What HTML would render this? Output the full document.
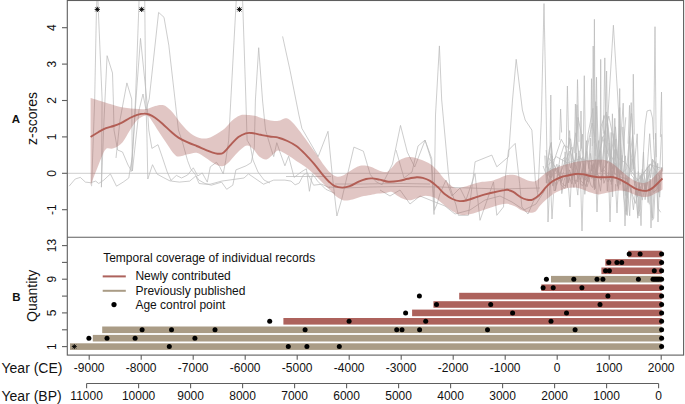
<!DOCTYPE html>
<html><head><meta charset="utf-8"><title>chart</title>
<style>
html,body{margin:0;padding:0;background:#fff;}
body{width:685px;height:404px;overflow:hidden;}
svg{display:block;}
text{font-family:"Liberation Sans",sans-serif;fill:#111;}
</style></head><body>
<svg width="685" height="404" viewBox="0 0 685 404">
<rect width="685" height="404" fill="#fff"/>
<g fill="none" stroke="#b9b9b9" stroke-width="0.72" stroke-linejoin="round">
<path d="M67,173.3 H683.5"/>
<path d="M91.6,186.2 L94.7,99.0 L96.4,12.0 L97.4,-14.0 L98.4,12.0 L102.1,99.0 L101.4,187.2 L104.0,120.0 L107.1,55.7 L112.5,73.0 L113.3,99.0 L114.0,130.0 L117.6,150.0 L122.5,152.0 L128.0,165.0 L131.5,171.0"/><path d="M69.1,186.2 L75.2,179.0 L80.3,177.4 L85.4,182.1 L90.5,182.7 L95.7,181.1 L98.7,183.5 L103.8,180.1 L110.4,173.9 L116.5,186.2 L123.2,182.1 L128.8,178.0 L130.0,169.9 L132.4,156.6 L134.1,130.0 L135.5,99.0 L139.3,-6.0 L144.7,-6.0 L145.7,99.0 L146.8,130.0 L147.8,179.0 L152.5,164.7 L157.0,174.0 L163.1,177.4 L170.3,181.1 L176.4,175.4 L181.5,178.0 L187.6,175.0 L193.3,167.8 L197.8,176.0 L202.2,172.9 L207.3,182.1 L210.3,166.8 L216.5,162.3 L219.5,166.4 L223.2,173.9 L225.7,160.7 L228.7,140.2 L230.8,100.0 L236.6,-6.0 L242.4,-6.0 L245.9,100.0 L247.1,140.2 L250.2,145.3 L253.0,160.0 L258.0,172.0 L264.0,180.0 L270.0,183.0"/><path d="M131.0,172.0 L136.0,99.0 L140.5,38.4 L146.7,99.0 L148.8,130.0 L151.9,148.4 L158.0,144.7 L162.1,156.6 L167.2,171.9 L171.3,181.1 L179.4,182.1 L189.7,181.1 L195.8,176.0 L199.1,183.5 L205.2,184.2 L210.3,184.2 L221.6,181.1 L244.0,178.0 L248.5,173.9 L263.5,184.2 L273.7,180.1 L284.9,180.1 L291.0,181.1 L295.1,184.8 L299.2,183.1 L303.3,175.0 L307.4,172.9 L313.6,185.2 L321.7,184.2 L330.0,188.0"/><path d="M116.0,158.0 L120.0,120.0 L126.9,82.9 L131.7,99.0 L132.4,171.0 L139.0,110.0 L143.0,94.0 L146.0,110.0 L149.2,99.0 L158.6,12.4 L164.0,17.3 L168.8,45.2 L175.1,100.4 L178.4,130.0 L182.5,142.3 L187.6,160.7 L190.7,168.8 L194.8,173.9 L198.9,180.1 L205.0,183.5 L211.4,185.2 L221.6,182.1 L226.7,189.3 L232.8,185.2 L235.9,169.9 L246.1,165.8 L251.2,162.7 L254.3,147.4 L255.4,100.0 L258.7,47.7 L262.5,100.0 L265.5,130.0 L271.6,150.4 L273.7,156.6 L276.8,142.7 L280.8,154.5 L284.9,165.8 L288.6,156.2 L294.1,177.4 L301.3,171.9 L306.4,168.8 L309.4,191.3 L312.5,173.9 L317.6,181.1 L325.8,189.3 L335.0,193.4"/>
<path d="M282.6,36.4 L290.0,70.2 L298.9,115.0 L301.9,128.4 L318.2,156.6 L328.0,131.3 L332.2,174.4 L336.9,216.0 L342.0,198.2 L353.9,147.1 L363.4,151.2 L370.2,174.4 L376.1,181.8 L382.1,184.8 L392.5,164.0 L400.5,125.4 L407.3,152.1 L414.7,167.0 L425.1,140.2 L431.1,159.6 L434.0,214.5 L435.5,115.0 L439.4,45.9 L441.7,100.0 L448.4,173.5 L450.0,187.0 L456.0,205.0 L458.4,215.3 L468.4,215.3 L475.1,161.8 L491.8,155.1 L496.8,166.8 L508.5,156.8 L512.5,100.0 L516.2,59.3 L522.4,110.0 L525.2,120.0 L531.9,130.1 L535.3,180.2 L538.0,196.0"/><path d="M329.0,187.0 L345.0,188.0 L370.0,187.0 L400.0,186.5 L440.0,187.0 L470.0,188.0 L500.0,189.0 L540.0,188.0"/><path d="M335.0,184.0 L360.0,184.0 L400.0,183.5 L430.0,184.0"/><path d="M286.0,176.5 L331.0,176.5"/><path d="M396.0,150.0 L404.0,178.0 L412.0,172.0 L418.0,146.0 L425.0,140.1 L431.7,158.5 L434.4,210.3 L437.0,204.0 L440.0,193.7 L446.0,180.0 L452.0,196.0 L460.0,188.0 L466.0,200.0 L475.0,173.5 L480.0,220.3 L493.5,181.9 L496.8,215.3 L503.5,206.9 L505.0,180.0 L508.5,150.1 L515.2,143.4 L519.6,183.5 L521.9,206.9 L528.0,214.0 L534.0,200.0 L540.0,196.0"/><path d="M380.0,190.0 L390.0,196.0 L400.0,190.0 L410.0,204.0 L420.0,196.0 L430.0,200.0 L445.0,206.0 L455.0,214.0 L470.0,210.0 L485.0,200.0 L500.0,196.0 L512.0,202.0 L524.0,210.0 L536.0,204.0 L545.0,190.0"/>
<path d="M538.0,192.0 L541.3,120.0 L544.0,3.6 L546.3,120.0 L548.0,222.0 L550.5,170.0"/><path d="M546.0,155.9 L547.6,176.2 L549.3,164.6 L551.0,153.7 L553.0,160.9 L554.1,164.5 L556.1,172.0 L558.3,173.9 L560.4,178.4 L561.6,181.0 L562.6,174.6 L563.8,171.5 L565.1,151.8 L566.7,167.7 L568.7,182.7 L570.3,172.7 L572.1,178.4 L574.3,166.7 L576.5,152.9 L577.8,182.1 L579.1,171.3 L581.0,162.0 L582.5,156.8 L584.7,178.6 L586.7,151.2 L588.8,168.6 L590.3,137.9 L591.4,171.2 L593.2,164.5 L594.3,178.4 L595.7,101.7 L596.8,174.9 L598.1,159.6 L600.1,161.7 L601.3,180.1 L602.5,175.1 L604.4,133.2 L605.5,129.9 L607.0,162.6 L609.2,143.0 L611.2,177.7 L612.4,113.8 L614.5,174.0 L616.6,174.7 L617.9,170.6 L619.3,110.1 L620.6,160.1 L622.3,174.3 L623.6,191.6 L625.2,188.6 L627.3,198.2 L629.4,176.8 L630.6,152.0 L632.6,135.2 L633.9,169.0 L636.0,147.5 L637.2,133.8 L639.0,189.6 L640.5,176.7 L642.6,177.5 L643.9,182.4 L645.9,191.1 L647.6,181.8 L649.5,171.6 L650.6,177.8 L652.6,159.0 L654.3,186.1 L655.6,133.2 L656.6,181.5 L657.7,163.3 L658.9,193.1 L660.0,165.7 L661.5,134.3"/><path d="M548.6,183.2 L549.9,168.3 L552.2,170.0 L554.2,168.1 L556.1,170.9 L557.8,171.5 L560.2,178.1 L561.4,182.2 L563.7,175.0 L565.8,175.3 L568.0,182.8 L569.6,178.0 L571.8,184.0 L573.5,161.6 L575.3,183.8 L577.2,178.8 L579.1,150.8 L580.3,184.2 L582.6,185.6 L584.6,180.5 L586.5,140.6 L588.2,163.0 L590.2,174.0 L591.4,178.4 L592.8,176.7 L594.8,181.2 L597.1,166.3 L598.5,140.6 L600.5,165.2 L601.8,131.5 L603.8,115.5 L606.1,176.8 L607.4,120.5 L609.1,144.1 L611.3,184.4 L612.9,177.3 L614.2,174.7 L615.9,139.0 L618.0,182.6 L620.3,170.1 L622.0,155.4 L623.5,173.3 L625.4,155.8 L627.1,189.7 L629.5,136.1 L631.2,175.2 L633.4,177.2 L634.6,183.3 L636.1,195.6 L638.2,171.5 L639.9,178.4 L641.0,174.7 L642.3,188.1 L643.5,189.5 L645.4,190.1 L647.3,166.8 L649.3,204.4"/><path d="M546.2,150.0 L548.4,174.0 L549.9,177.4 L552.1,155.9 L554.0,190.8 L555.7,189.4 L558.0,168.7 L560.5,179.0 L562.8,159.0 L564.8,157.4 L567.3,187.6 L569.7,152.9 L572.1,147.0 L574.2,181.1 L575.7,180.2 L577.8,195.1 L580.0,162.1 L582.5,134.2 L584.5,169.9 L587.0,186.8 L589.4,179.0 L591.2,164.7 L593.1,172.7 L594.4,189.8 L596.7,106.1 L598.4,145.6 L600.7,162.6 L602.6,158.8 L604.8,138.4 L607.3,191.1 L609.2,161.0 L610.7,177.4 L612.7,181.3 L614.8,118.3 L617.2,186.3 L618.9,180.2 L621.3,158.1 L623.7,196.9 L626.2,214.6 L627.7,191.7 L629.7,215.8 L630.9,186.8 L633.4,209.8 L635.8,189.0 L637.8,218.2 L639.1,183.3 L641.0,225.7 L643.5,152.0 L645.1,199.7 L646.9,183.3 L649.2,164.4 L650.9,203.1 L652.3,220.3 L653.7,218.3 L656.0,171.5 L657.5,183.1 L659.7,197.2 L661.8,167.0"/><path d="M549.0,184.7 L550.7,176.0 L552.9,186.1 L554.9,169.0 L557.1,169.2 L559.5,165.0 L561.8,193.7 L564.2,180.2 L566.9,172.4 L569.6,130.6 L572.4,180.1 L575.3,156.2 L577.0,104.7 L578.7,175.6 L581.2,175.7 L583.9,163.7 L586.0,173.3 L587.9,181.9 L590.4,153.4 L592.9,174.2 L595.7,159.4 L597.9,176.7 L600.5,191.2 L602.1,175.7 L603.5,169.9 L605.7,171.7 L607.9,182.0 L609.5,178.6 L611.2,132.4 L612.6,196.9 L614.1,133.5 L616.7,179.9 L618.5,188.6 L620.5,169.8 L622.9,126.9 L625.6,182.4 L627.2,215.5 L629.2,174.1 L630.8,170.7 L632.1,158.6 L635.0,174.4 L637.7,214.4 L640.1,209.2 L642.3,169.4 L645.2,180.1 L648.1,202.6 L650.6,179.1 L652.6,218.3 L655.5,161.7 L658.1,208.3 L660.7,212.3"/><path d="M544.8,155.6 L546.4,183.1 L549.2,149.8 L551.3,142.1 L553.6,179.2 L556.5,185.3 L558.9,179.4 L562.5,184.0 L565.6,186.1 L569.2,137.6 L572.2,168.4 L574.3,176.2 L576.3,168.1 L578.7,156.0 L582.1,160.0 L584.8,194.3 L587.5,174.4 L591.1,185.8 L592.9,187.5 L595.7,171.0 L599.1,176.7 L601.0,180.2 L603.6,167.6 L606.5,114.7 L609.1,134.6 L611.9,179.6 L614.8,149.5 L617.5,177.1 L619.7,107.5 L621.4,171.7 L623.3,173.2 L626.4,211.4 L629.5,140.5 L631.2,102.6 L634.6,185.4"/><path d="M546.3,167.7 L551.1,143.1 L555.4,190.7 L559.9,158.3 L564.0,145.4 L567.6,147.4 L570.6,138.8 L573.4,158.6 L577.0,175.6 L580.2,179.8 L584.1,184.3 L588.0,134.1 L593.0,108.3 L595.7,174.8 L600.5,150.7 L603.9,183.3 L607.0,175.2 L611.0,181.8 L615.1,163.0 L618.2,176.7 L623.2,103.2 L625.8,195.6 L628.4,178.3 L632.5,149.5 L635.2,182.9 L638.0,178.5 L642.2,200.1 L645.6,184.4 L649.3,173.8 L653.6,160.5 L658.2,169.9"/><path d="M547.9,166.4 L551.5,177.4 L556.9,164.2 L561.0,184.9 L565.0,188.5 L569.7,169.8 L573.9,187.6 L578.0,117.3 L581.3,133.8 L584.5,180.6 L589.6,175.0 L593.5,163.6 L597.1,174.4 L602.1,136.6 L607.3,150.6 L612.4,168.6 L616.4,149.5 L621.6,173.8 L626.7,168.7 L631.5,113.4 L637.2,197.0 L641.5,174.0 L645.5,191.8 L649.7,133.7 L653.4,192.5 L657.5,188.9 L661.7,167.4"/><path d="M543.1,166.0 L549.5,183.2 L554.7,158.9 L561.3,139.3 L565.4,146.9 L570.6,168.1 L575.8,132.8 L582.1,175.1 L585.3,186.4 L588.6,177.3 L592.0,173.5 L595.3,188.7 L600.8,126.9 L606.4,111.9 L610.4,158.7 L615.5,126.8 L620.1,184.5 L625.8,117.3"/><path d="M548.9,158.1 L559.9,173.9 L569.9,151.0 L580.9,179.5 L592.2,123.0 L601.4,171.8 L611.6,156.4 L620.1,177.0 L627.0,178.8 L635.3,203.4 L642.3,174.5 L650.0,164.8 L661.9,168.5"/><path d="M548.1,165.4 L556.4,156.7 L567.5,163.0 L580.8,158.5 L589.1,161.6 L597.7,158.9 L608.8,116.1 L617.4,157.9 L625.6,162.9 L637.9,180.7 L650.6,163.8 L661.0,178.5"/><path d="M549.9,154.6 L550.8,95.0 L551.7,177.9"/><path d="M559.6,139.9 L560.6,109.0 L561.6,132.5"/><path d="M565.9,166.1 L567.4,86.0 L568.9,149.2"/><path d="M574.3,153.2 L575.4,104.0 L576.5,143.7"/><path d="M576.0,159.6 L577.5,79.6 L579.0,141.9"/><path d="M580.4,151.3 L581.0,111.0 L581.6,148.6"/><path d="M583.0,162.1 L584.3,75.7 L585.6,160.3"/><path d="M590.8,137.1 L591.5,78.7 L592.2,146.1"/><path d="M593.6,169.1 L594.4,19.3 L595.2,155.8"/><path d="M592.0,174.7 L593.2,46.0 L594.4,143.3"/><path d="M595.4,136.8 L596.5,77.2 L597.6,168.5"/><path d="M600.1,167.0 L600.7,59.4 L601.3,172.3"/><path d="M603.5,133.7 L604.8,57.9 L606.1,143.5"/><path d="M605.4,134.4 L606.6,71.0 L607.8,154.0"/><path d="M618.7,173.0 L619.7,88.5 L620.7,159.3"/><path d="M628.1,143.7 L629.5,105.4 L630.9,169.5"/><path d="M632.3,171.3 L633.3,74.2 L634.3,134.5"/><path d="M653.7,139.4 L655.0,26.7 L656.3,157.2"/><path d="M660.4,137.1 L661.5,92.0 L662.6,171.6"/><path d="M606.0,170.0 L607.8,118.0 L613.4,25.2 L619.0,118.0 L621.0,175.0"/><path d="M642.0,178.0 L645.0,125.0 L647.0,111.0 L650.5,110.0 L652.5,118.0 L654.0,150.0 L656.0,185.0"/><path d="M580.5,177.8 L582.0,231.0 L583.5,177.8"/><path d="M608.5,171.9 L610.0,222.0 L611.5,177.6"/><path d="M623.5,181.7 L625.0,226.0 L626.5,187.9"/><path d="M649.5,179.0 L651.0,228.0 L652.5,187.2"/><path d="M656.5,172.6 L658.0,222.0 L659.5,179.9"/><path d="M550.5,181.5 L552.0,219.0 L553.5,194.2"/><path d="M637.5,190.7 L639.0,216.0 L640.5,186.3"/><path d="M595.5,170.3 L597.0,212.0 L598.5,179.4"/><path d="M568.5,187.8 L570.0,207.0 L571.5,175.9"/><path d="M615.5,184.1 L617.0,213.0 L618.5,181.5"/>
</g>
<path d="M90.6,98.0 C92.9,98.7 99.8,100.8 104.6,102.3 C109.4,103.8 114.5,105.6 119.4,106.7 C124.4,107.8 129.8,108.4 134.3,108.8 C138.8,109.2 142.7,109.5 146.2,109.1 C149.7,108.6 152.6,106.8 155.1,106.1 C157.6,105.4 159.3,105.0 161.0,105.0 C162.7,105.0 163.5,104.8 165.5,106.1 C167.5,107.4 170.2,109.6 172.9,112.7 C175.6,115.8 178.8,121.1 181.8,124.6 C184.8,128.1 187.7,131.3 190.7,133.5 C193.7,135.7 196.6,137.2 199.6,137.9 C202.6,138.6 205.5,138.6 208.5,137.9 C211.5,137.2 214.8,135.1 217.5,133.5 C220.2,131.9 222.5,130.4 225.0,128.2 C227.5,126.0 229.9,122.3 232.4,120.2 C234.9,118.1 237.4,116.3 239.9,115.4 C242.4,114.5 244.8,114.9 247.3,114.9 C249.8,115.0 252.0,115.1 254.7,115.7 C257.4,116.3 260.6,117.9 263.6,118.7 C266.6,119.5 270.0,120.5 272.5,120.8 C275.0,121.1 276.5,121.2 278.5,120.8 C280.5,120.4 282.7,118.7 284.4,118.4 C286.1,118.2 286.9,117.9 288.9,119.3 C290.9,120.7 293.6,123.5 296.3,126.7 C299.0,129.9 302.2,134.5 305.2,138.6 C308.2,142.7 311.1,146.9 314.1,151.1 C317.1,155.3 320.3,160.3 323.0,163.9 C325.7,167.5 328.3,170.7 330.5,172.8 C332.7,174.9 334.4,176.1 336.4,176.6 C338.4,177.1 340.2,176.7 342.4,175.8 C344.6,174.9 347.3,172.8 349.8,171.3 C352.3,169.8 355.0,167.8 357.2,166.8 C359.4,165.8 361.0,165.4 363.2,165.4 C365.4,165.4 367.9,165.9 370.6,166.8 C373.3,167.7 376.8,169.8 379.5,170.7 C382.2,171.5 384.8,172.4 386.9,171.9 C389.0,171.4 390.2,169.2 392.0,167.5 C393.8,165.8 395.2,163.2 397.4,161.6 C399.5,160.0 402.7,158.4 404.9,157.7 C407.1,156.9 408.3,156.8 410.8,157.1 C413.3,157.3 416.7,158.2 419.7,159.2 C422.7,160.2 425.9,161.5 428.6,163.1 C431.3,164.7 433.5,166.5 436.0,169.0 C438.5,171.5 441.0,175.2 443.5,177.9 C446.0,180.6 448.7,183.7 450.9,185.4 C453.1,187.1 454.6,188.1 456.8,188.3 C459.0,188.5 461.6,187.5 464.3,186.8 C467.0,186.1 470.2,184.7 473.2,183.9 C476.2,183.1 479.1,182.3 482.1,181.8 C485.1,181.3 488.0,181.6 491.0,180.9 C494.0,180.2 497.2,178.9 499.9,177.9 C502.6,176.9 504.9,175.5 507.4,175.0 C509.9,174.5 512.3,174.5 514.8,175.0 C517.3,175.5 519.7,176.9 522.2,177.9 C524.7,178.9 527.4,180.4 529.6,180.9 C531.8,181.4 533.6,181.7 535.6,180.9 C537.6,180.2 539.5,177.9 541.5,176.4 C543.5,174.9 545.3,173.1 547.6,171.7 C549.9,170.3 552.7,168.9 555.2,167.9 C557.7,166.9 560.2,166.2 562.7,165.4 C565.2,164.6 567.8,163.9 570.3,163.3 C572.8,162.7 574.9,162.1 577.9,161.6 C580.9,161.1 584.6,160.6 588.0,160.3 C591.4,160.0 595.1,159.8 598.1,159.8 C601.1,159.8 603.2,159.6 605.7,160.3 C608.2,161.0 610.8,162.4 613.3,164.1 C615.8,165.8 618.3,168.3 620.8,170.4 C623.3,172.5 625.9,174.9 628.4,176.7 C630.9,178.5 633.5,180.2 636.0,181.3 C638.5,182.4 641.3,183.1 643.6,183.0 C645.9,182.9 647.8,182.0 649.9,180.5 C652.0,179.0 654.1,176.4 656.2,174.2 C658.3,172.0 661.5,168.5 662.5,167.4 L662.5,189.4 C661.5,190.0 658.3,192.0 656.2,193.1 C654.1,194.2 652.0,195.6 649.9,196.2 C647.8,196.8 645.9,197.1 643.6,196.9 C641.3,196.7 638.5,196.0 636.0,195.2 C633.5,194.4 630.9,192.7 628.4,191.9 C625.9,191.1 623.3,190.7 620.8,190.6 C618.3,190.5 615.8,191.0 613.3,191.4 C610.8,191.8 608.2,192.6 605.7,193.1 C603.2,193.6 600.6,194.5 598.1,194.4 C595.6,194.3 593.0,193.4 590.5,192.6 C588.0,191.8 585.4,190.2 582.9,189.4 C580.4,188.6 577.9,187.8 575.4,187.6 C572.9,187.4 570.3,187.6 567.8,188.1 C565.3,188.6 562.7,189.5 560.2,190.6 C557.7,191.7 554.9,192.9 552.6,194.4 C550.3,195.9 548.4,197.6 546.3,199.5 C544.2,201.4 541.8,203.8 540.0,205.8 C538.2,207.8 537.3,210.3 535.6,211.5 C533.9,212.7 531.8,212.8 529.6,212.7 C527.4,212.5 524.7,211.7 522.2,210.6 C519.7,209.5 517.3,207.3 514.8,206.2 C512.3,205.1 509.9,204.1 507.4,203.8 C504.9,203.6 502.6,204.1 499.9,204.7 C497.2,205.3 494.0,206.6 491.0,207.6 C488.0,208.6 485.1,209.6 482.1,210.6 C479.1,211.6 476.2,212.8 473.2,213.6 C470.2,214.3 467.0,215.1 464.3,215.1 C461.6,215.1 459.3,214.6 456.8,213.6 C454.3,212.6 451.9,210.8 449.4,209.1 C446.9,207.4 444.5,205.1 442.0,203.2 C439.5,201.3 437.3,199.0 434.6,197.8 C431.9,196.6 428.4,195.8 425.7,195.8 C423.0,195.8 420.7,197.1 418.2,197.8 C415.7,198.5 413.0,199.9 410.8,200.2 C408.6,200.5 407.1,200.3 404.9,199.6 C402.7,198.9 399.5,197.1 397.4,195.8 C395.2,194.5 393.8,192.5 392.0,192.0 C390.2,191.5 389.2,192.4 386.9,192.7 C384.6,193.0 380.7,193.2 378.0,193.6 C375.3,194.0 373.3,194.6 370.6,195.1 C367.9,195.6 364.7,195.9 361.7,196.6 C358.7,197.3 355.7,198.9 352.7,199.5 C349.7,200.1 346.5,200.9 343.8,200.4 C341.1,199.9 338.6,198.2 336.4,196.6 C334.2,195.0 332.7,192.8 330.5,190.6 C328.3,188.4 325.7,185.9 323.0,183.2 C320.3,180.5 317.1,177.0 314.1,174.3 C311.1,171.6 308.2,169.0 305.2,166.8 C302.2,164.6 299.3,162.9 296.3,160.9 C293.3,158.9 290.4,156.7 287.4,155.0 C284.4,153.3 280.7,150.8 278.5,150.5 C276.3,150.2 276.0,152.0 274.0,153.5 C272.0,155.0 269.1,158.9 266.6,159.4 C264.1,159.9 261.4,158.1 259.2,156.4 C257.0,154.7 255.2,150.8 253.2,149.0 C251.2,147.2 249.3,145.5 247.3,145.5 C245.3,145.5 243.5,147.2 241.3,149.0 C239.1,150.8 236.1,154.1 233.9,156.4 C231.7,158.7 230.0,161.4 228.0,163.0 C226.0,164.6 224.2,166.1 221.9,166.2 C219.7,166.3 217.2,165.2 214.5,163.8 C211.8,162.4 208.6,159.6 205.6,157.8 C202.6,156.0 199.7,153.4 196.7,152.8 C193.7,152.2 190.8,153.7 187.8,154.3 C184.8,154.9 181.0,156.6 178.8,156.6 C176.6,156.6 176.4,156.4 174.4,154.3 C172.4,152.2 169.7,147.9 167.0,143.9 C164.3,139.9 161.0,135.0 158.0,130.5 C155.0,126.0 151.3,119.6 149.1,117.1 C146.9,114.6 146.7,115.2 144.7,115.7 C142.7,116.2 139.7,117.6 137.2,120.1 C134.7,122.6 132.3,126.8 129.8,130.5 C127.3,134.2 125.1,139.4 122.4,142.4 C119.7,145.4 116.2,147.2 113.5,148.3 C110.8,149.4 108.0,147.4 106.0,148.9 C104.0,150.4 103.3,153.3 101.6,157.2 C99.9,161.1 97.5,167.4 95.7,172.1 C93.9,176.8 91.4,183.3 90.6,185.5 Z" fill="#ad625c" fill-opacity="0.36" stroke="none"/>
<path d="M90.6,137.0 C91.9,136.2 96.0,133.5 98.6,132.0 C101.2,130.5 103.5,129.1 106.0,128.1 C108.5,127.1 111.0,126.8 113.5,126.0 C116.0,125.2 118.2,124.4 120.9,123.1 C123.6,121.8 127.1,119.4 129.8,118.0 C132.5,116.6 134.8,115.5 137.2,114.8 C139.6,114.1 142.1,113.6 144.1,113.6 C146.1,113.5 147.3,113.8 149.1,114.5 C150.9,115.2 152.9,116.2 155.1,117.7 C157.3,119.2 159.8,121.3 162.5,123.7 C165.2,126.1 168.7,129.6 171.4,132.0 C174.1,134.4 176.1,136.2 178.8,137.9 C181.5,139.6 184.8,141.1 187.8,142.4 C190.8,143.8 193.7,144.8 196.7,146.0 C199.7,147.2 203.1,148.8 205.6,149.8 C208.1,150.8 209.5,151.5 211.5,152.2 C213.5,152.8 215.5,153.6 217.5,153.7 C219.5,153.8 221.2,154.3 223.4,152.8 C225.6,151.3 228.4,147.2 230.9,144.6 C233.4,142.0 235.9,139.0 238.4,137.1 C240.9,135.2 243.6,134.0 245.8,133.3 C248.0,132.6 249.2,132.8 251.7,133.0 C254.2,133.2 257.7,134.2 260.7,134.8 C263.7,135.4 266.6,136.0 269.6,136.5 C272.6,137.0 275.5,136.9 278.5,137.7 C281.5,138.4 284.4,139.6 287.4,141.0 C290.4,142.4 293.3,143.8 296.3,146.0 C299.3,148.2 302.2,151.1 305.2,154.1 C308.2,157.1 311.1,160.4 314.1,163.9 C317.1,167.4 320.5,172.2 323.0,175.2 C325.5,178.2 327.0,179.9 329.0,181.7 C331.0,183.5 332.7,185.2 334.9,186.2 C337.1,187.2 339.9,187.6 342.4,187.6 C344.9,187.6 347.1,187.2 349.8,186.2 C352.5,185.2 356.0,182.9 358.7,181.7 C361.4,180.5 363.9,179.6 366.1,179.0 C368.3,178.4 369.9,178.3 372.1,178.4 C374.3,178.5 376.8,179.1 379.5,179.6 C382.2,180.1 385.2,181.5 388.4,181.7 C391.6,181.9 395.7,181.4 398.9,180.9 C402.1,180.4 404.8,179.4 407.8,178.8 C410.8,178.2 414.2,177.5 416.7,177.3 C419.2,177.2 420.5,177.3 422.7,177.9 C424.9,178.5 427.6,179.4 430.1,180.9 C432.6,182.4 435.0,184.6 437.5,186.8 C440.0,189.0 442.5,192.3 445.0,194.3 C447.5,196.3 449.9,197.9 452.4,199.0 C454.9,200.1 457.3,200.9 459.8,201.1 C462.3,201.3 464.5,200.8 467.2,200.2 C469.9,199.5 473.2,198.2 476.2,197.2 C479.2,196.2 482.1,195.1 485.1,194.3 C488.1,193.5 491.0,192.8 494.0,192.2 C497.0,191.5 500.7,190.8 502.9,190.4 C505.1,190.0 505.7,189.6 507.4,189.8 C509.1,190.1 511.1,190.7 513.3,191.9 C515.5,193.1 518.5,195.9 520.7,197.2 C522.9,198.5 524.7,199.2 526.7,199.6 C528.7,200.0 530.4,200.5 532.6,199.6 C534.8,198.7 537.7,196.5 540.0,194.4 C542.3,192.3 544.2,189.0 546.3,186.8 C548.4,184.6 550.3,182.9 552.6,181.3 C554.9,179.8 557.7,178.5 560.2,177.5 C562.7,176.5 565.3,176.1 567.8,175.5 C570.3,174.9 572.9,174.2 575.4,174.0 C577.9,173.8 580.4,173.9 582.9,174.2 C585.4,174.5 588.0,175.5 590.5,176.0 C593.0,176.5 595.6,177.0 598.1,177.2 C600.6,177.4 603.2,177.2 605.7,177.2 C608.2,177.2 610.8,176.8 613.3,177.2 C615.8,177.6 618.3,178.6 620.8,179.8 C623.3,181.0 625.9,182.8 628.4,184.3 C630.9,185.8 633.7,187.9 636.0,188.9 C638.3,189.9 640.4,190.3 642.3,190.6 C644.2,190.9 645.7,191.0 647.4,190.6 C649.1,190.2 650.7,189.3 652.4,188.1 C654.1,186.9 655.8,185.1 657.5,183.5 C659.2,181.9 661.7,179.3 662.5,178.5" fill="none" stroke="#b25e55" stroke-width="1.9" stroke-linecap="butt"/>
<rect x="70.0" y="343.3" width="591.6" height="6.6" fill="#aa9c86"/><rect x="92.8" y="334.9" width="568.8" height="6.6" fill="#aa9c86"/><rect x="102.2" y="326.5" width="559.4" height="6.6" fill="#aa9c86"/><rect x="283.4" y="318.0" width="378.2" height="6.6" fill="#ad625c"/><rect x="412.1" y="309.6" width="249.5" height="6.6" fill="#ad625c"/><rect x="433.4" y="301.2" width="228.2" height="6.6" fill="#ad625c"/><rect x="459.2" y="292.8" width="202.4" height="6.6" fill="#ad625c"/><rect x="541.3" y="284.4" width="120.3" height="6.6" fill="#ad625c"/><rect x="551.0" y="275.9" width="110.6" height="6.6" fill="#aa9c86"/><rect x="601.4" y="267.5" width="60.2" height="6.6" fill="#ad625c"/><rect x="605.3" y="259.1" width="56.3" height="6.6" fill="#ad625c"/><rect x="628.2" y="250.7" width="33.4" height="6.6" fill="#ad625c"/>
<g fill="#000"><circle cx="169.3" cy="346.6" r="2.5"/><circle cx="288.3" cy="346.6" r="2.5"/><circle cx="306.9" cy="346.6" r="2.5"/><circle cx="339.3" cy="346.6" r="2.5"/><circle cx="661.6" cy="346.6" r="2.5"/><circle cx="88.9" cy="338.2" r="2.5"/><circle cx="107.0" cy="338.2" r="2.5"/><circle cx="135.1" cy="338.2" r="2.5"/><circle cx="194.9" cy="338.2" r="2.5"/><circle cx="661.6" cy="338.2" r="2.5"/><circle cx="142.1" cy="329.8" r="2.5"/><circle cx="171.5" cy="329.8" r="2.5"/><circle cx="215.0" cy="329.8" r="2.5"/><circle cx="305.1" cy="329.8" r="2.5"/><circle cx="396.7" cy="329.8" r="2.5"/><circle cx="402.0" cy="329.8" r="2.5"/><circle cx="419.6" cy="329.8" r="2.5"/><circle cx="487.5" cy="329.8" r="2.5"/><circle cx="575.1" cy="329.8" r="2.5"/><circle cx="661.6" cy="329.8" r="2.5"/><circle cx="269.7" cy="321.3" r="2.5"/><circle cx="349.1" cy="321.3" r="2.5"/><circle cx="425.7" cy="321.3" r="2.5"/><circle cx="551.0" cy="321.3" r="2.5"/><circle cx="661.6" cy="321.3" r="2.5"/><circle cx="405.6" cy="312.9" r="2.5"/><circle cx="512.6" cy="312.9" r="2.5"/><circle cx="566.5" cy="312.9" r="2.5"/><circle cx="661.6" cy="312.9" r="2.5"/><circle cx="436.5" cy="304.5" r="2.5"/><circle cx="490.7" cy="304.5" r="2.5"/><circle cx="600.0" cy="304.5" r="2.5"/><circle cx="661.6" cy="304.5" r="2.5"/><circle cx="419.4" cy="296.1" r="2.5"/><circle cx="607.9" cy="296.1" r="2.5"/><circle cx="661.6" cy="296.1" r="2.5"/><circle cx="543.1" cy="287.7" r="2.5"/><circle cx="553.2" cy="287.7" r="2.5"/><circle cx="581.9" cy="287.7" r="2.5"/><circle cx="661.6" cy="287.7" r="2.5"/><circle cx="546.4" cy="279.2" r="2.5"/><circle cx="573.8" cy="279.2" r="2.5"/><circle cx="597.0" cy="279.2" r="2.5"/><circle cx="602.9" cy="279.2" r="2.5"/><circle cx="638.4" cy="279.2" r="2.5"/><circle cx="653.0" cy="279.2" r="2.5"/><circle cx="655.0" cy="279.2" r="2.5"/><circle cx="657.0" cy="279.2" r="2.5"/><circle cx="659.0" cy="279.2" r="2.5"/><circle cx="661.6" cy="279.2" r="2.5"/><circle cx="605.5" cy="270.8" r="2.5"/><circle cx="609.4" cy="270.8" r="2.5"/><circle cx="654.3" cy="270.8" r="2.5"/><circle cx="661.6" cy="270.8" r="2.5"/><circle cx="608.8" cy="262.4" r="2.5"/><circle cx="616.9" cy="262.4" r="2.5"/><circle cx="621.7" cy="262.4" r="2.5"/><circle cx="661.6" cy="262.4" r="2.5"/><circle cx="629.2" cy="254.0" r="2.5"/><circle cx="640.1" cy="254.0" r="2.5"/><circle cx="661.6" cy="254.0" r="2.5"/></g>
<path d="M94.7,9.4 H99.9 M97.3,6.8 V12.0 M95.4,7.5 L99.2,11.3 M95.4,11.3 L99.2,7.5" stroke="#000" stroke-width="0.95" fill="none"/><path d="M139.1,9.4 H144.3 M141.7,6.8 V12.0 M139.8,7.5 L143.6,11.3 M139.8,11.3 L143.6,7.5" stroke="#000" stroke-width="0.95" fill="none"/><path d="M236.8,9.4 H242.0 M239.4,6.8 V12.0 M237.5,7.5 L241.3,11.3 M237.5,11.3 L241.3,7.5" stroke="#000" stroke-width="0.95" fill="none"/><path d="M71.8,346.6 H76.8 M74.3,344.1 V349.1 M72.5,344.8 L76.1,348.4 M72.5,348.4 L76.1,344.8" stroke="#000" stroke-width="0.95" fill="none"/>
<g fill="none" stroke="#5e5e5e" stroke-width="1.1">
<rect x="67.3" y="0.5" width="616.3" height="354.6"/>
<path d="M67.2,237.3 H683.5"/>
<path d="M62,27.7 H67"/><path d="M62,64.1 H67"/><path d="M62,100.5 H67"/><path d="M62,136.9 H67"/><path d="M62,173.3 H67"/><path d="M62,209.7 H67"/><path d="M62,346.6 H67"/><path d="M62,329.8 H67"/><path d="M62,312.9 H67"/><path d="M62,296.1 H67"/><path d="M62,279.2 H67"/><path d="M62,262.4 H67"/><path d="M62,245.6 H67"/><path d="M89.2,355 V359.8"/><path d="M141.2,355 V359.8"/><path d="M193.2,355 V359.8"/><path d="M245.2,355 V359.8"/><path d="M297.2,355 V359.8"/><path d="M349.2,355 V359.8"/><path d="M401.2,355 V359.8"/><path d="M453.2,355 V359.8"/><path d="M505.2,355 V359.8"/><path d="M557.2,355 V359.8"/><path d="M609.2,355 V359.8"/><path d="M661.2,355 V359.8"/><path d="M86.6,383.5 H658.6"/><path d="M658.6,383.5 V388.3"/><path d="M606.6,383.5 V388.3"/><path d="M554.6,383.5 V388.3"/><path d="M502.6,383.5 V388.3"/><path d="M450.6,383.5 V388.3"/><path d="M398.6,383.5 V388.3"/><path d="M346.6,383.5 V388.3"/><path d="M294.6,383.5 V388.3"/><path d="M242.6,383.5 V388.3"/><path d="M190.6,383.5 V388.3"/><path d="M138.6,383.5 V388.3"/><path d="M86.6,383.5 V388.3"/>
</g>
<g>
<text transform="translate(55.8,27.7) rotate(-90)" text-anchor="middle" font-size="12">4</text><text transform="translate(55.8,64.1) rotate(-90)" text-anchor="middle" font-size="12">3</text><text transform="translate(55.8,100.5) rotate(-90)" text-anchor="middle" font-size="12">2</text><text transform="translate(55.8,136.9) rotate(-90)" text-anchor="middle" font-size="12">1</text><text transform="translate(55.8,173.3) rotate(-90)" text-anchor="middle" font-size="12">0</text><text transform="translate(55.8,209.7) rotate(-90)" text-anchor="middle" font-size="12">-1</text><text transform="translate(55.8,346.6) rotate(-90)" text-anchor="middle" font-size="12">1</text><text transform="translate(55.8,312.9) rotate(-90)" text-anchor="middle" font-size="12">5</text><text transform="translate(55.8,279.2) rotate(-90)" text-anchor="middle" font-size="12">9</text><text transform="translate(55.8,245.6) rotate(-90)" text-anchor="middle" font-size="12">13</text><text x="89.2" y="372.3" text-anchor="middle" font-size="12">-9000</text><text x="141.2" y="372.3" text-anchor="middle" font-size="12">-8000</text><text x="193.2" y="372.3" text-anchor="middle" font-size="12">-7000</text><text x="245.2" y="372.3" text-anchor="middle" font-size="12">-6000</text><text x="297.2" y="372.3" text-anchor="middle" font-size="12">-5000</text><text x="349.2" y="372.3" text-anchor="middle" font-size="12">-4000</text><text x="401.2" y="372.3" text-anchor="middle" font-size="12">-3000</text><text x="453.2" y="372.3" text-anchor="middle" font-size="12">-2000</text><text x="505.2" y="372.3" text-anchor="middle" font-size="12">-1000</text><text x="557.2" y="372.3" text-anchor="middle" font-size="12">0</text><text x="609.2" y="372.3" text-anchor="middle" font-size="12">1000</text><text x="661.2" y="372.3" text-anchor="middle" font-size="12">2000</text><text x="658.6" y="400.3" text-anchor="middle" font-size="12">0</text><text x="606.6" y="400.3" text-anchor="middle" font-size="12">1000</text><text x="554.6" y="400.3" text-anchor="middle" font-size="12">2000</text><text x="502.6" y="400.3" text-anchor="middle" font-size="12">3000</text><text x="450.6" y="400.3" text-anchor="middle" font-size="12">4000</text><text x="398.6" y="400.3" text-anchor="middle" font-size="12">5000</text><text x="346.6" y="400.3" text-anchor="middle" font-size="12">6000</text><text x="294.6" y="400.3" text-anchor="middle" font-size="12">7000</text><text x="242.6" y="400.3" text-anchor="middle" font-size="12">8000</text><text x="190.6" y="400.3" text-anchor="middle" font-size="12">9000</text><text x="138.6" y="400.3" text-anchor="middle" font-size="12">10000</text><text x="86.6" y="400.3" text-anchor="middle" font-size="12">11000</text>
<text x="11.7" y="123.2" font-size="11.5" font-weight="bold">A</text>
<text x="12.2" y="300.7" font-size="11.5" font-weight="bold">B</text>
<text transform="translate(37.3,118.5) rotate(-90)" text-anchor="middle" font-size="14">z-scores</text>
<text transform="translate(37.3,295.9) rotate(-90)" text-anchor="middle" font-size="14">Quantity</text>
<text x="1.5" y="372.6" font-size="14">Year (CE)</text>
<text x="1.5" y="400.6" font-size="14">Year (BP)</text>
<text x="103.2" y="261.5" font-size="12">Temporal coverage of individual records</text>
<text x="135.4" y="280.4" font-size="12">Newly contributed</text>
<text x="135.4" y="294.7" font-size="12">Previously published</text>
<text x="135.4" y="308.6" font-size="12">Age control point</text>
</g>
<path d="M102.7,276.4 H125.8" stroke="#ad625c" stroke-width="2"/>
<path d="M102.7,290.8 H125.8" stroke="#aa9c86" stroke-width="2"/>
<circle cx="114" cy="304.6" r="2.6" fill="#000"/>
</svg>
</body></html>
